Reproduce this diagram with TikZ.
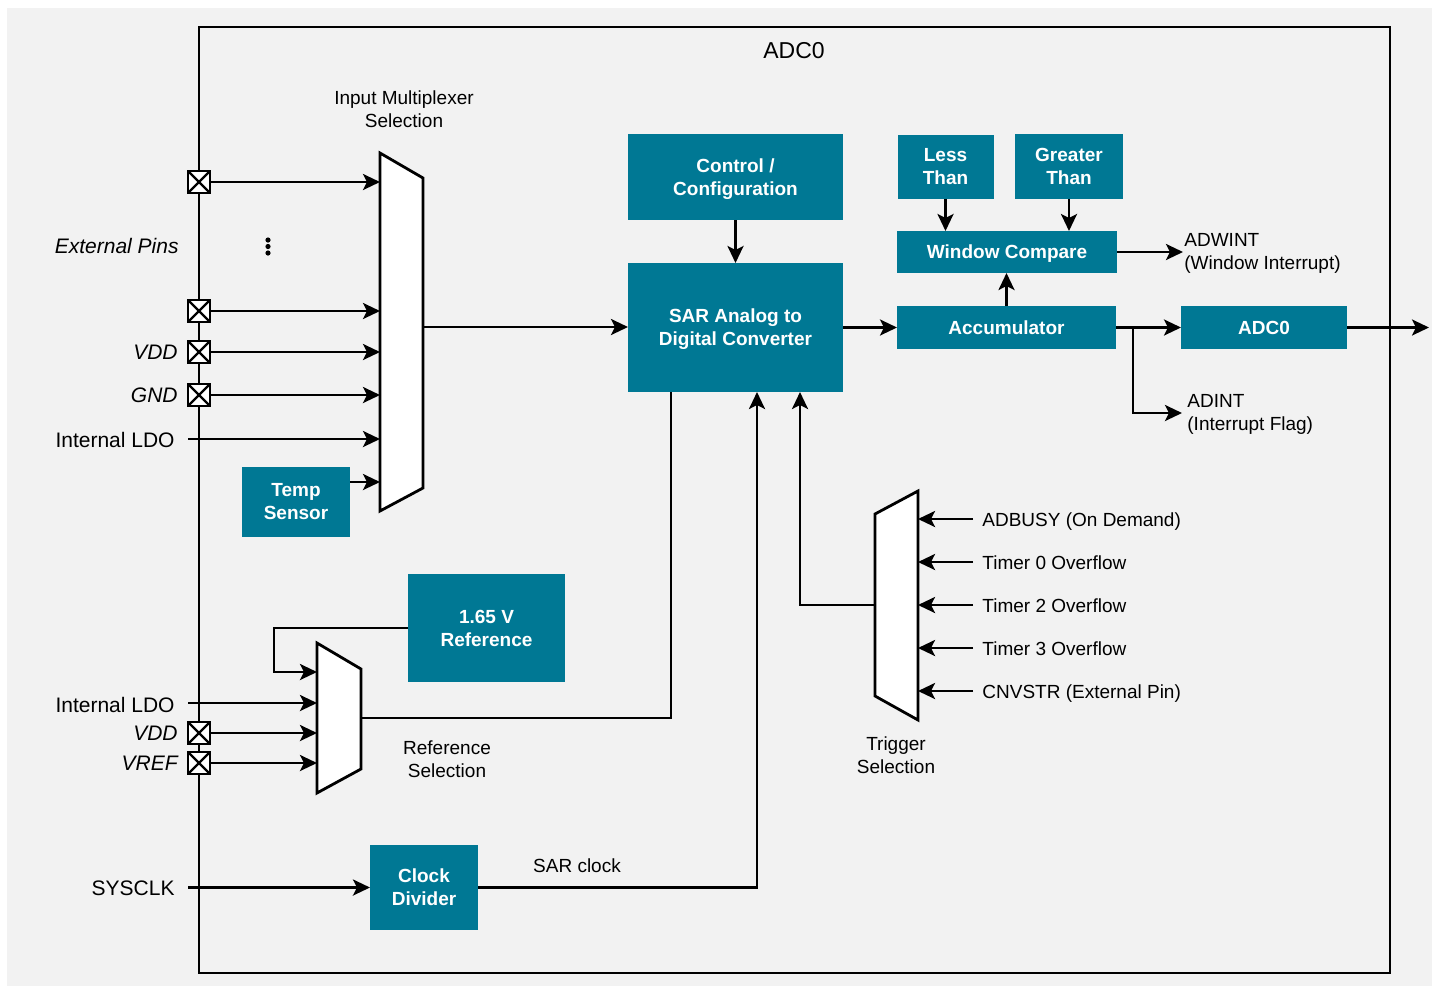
\documentclass[tikz,border=0pt]{standalone}
\usepackage{fontspec}
\setmainfont{Liberation Sans}
\usetikzlibrary{arrows.meta}
\definecolor{teal0}{RGB}{0,120,148}
\definecolor{bggrey}{RGB}{242,242,242}
\begin{document}
\begin{tikzpicture}[x=1pt,y=-1pt,
  line width=2.8pt,
  arr/.style={-{Stealth[length=17pt,width=16pt,inset=4pt]}},
  blk/.style={fill=teal0,text=white,font=\bfseries\fontsize{19}{23}\selectfont,align=center,inner sep=0pt,outer sep=0pt,draw=none},
  lbl/.style={font=\fontsize{19}{23}\selectfont,align=center,inner sep=0pt},
  one/.style={font=\fontsize{19}{23}\selectfont,inner sep=0pt,text height=13.6pt,text depth=0pt},
  big/.style={font=\fontsize{21}{25}\selectfont,inner sep=0pt,text height=15pt,text depth=0pt},
  ibig/.style={big,font=\itshape\fontsize{21}{25}\selectfont},
  pinbox/.style={draw,fill=white,line width=2.8pt,minimum size=22pt,inner sep=0pt,outer sep=0pt,
    path picture={\draw[line width=2.4pt] (path picture bounding box.north west) -- (path picture bounding box.south east) (path picture bounding box.north east) -- (path picture bounding box.south west);}},
  mux/.style={draw,fill=white,line width=2.8pt,line join=miter}
]
\useasboundingbox (0,0) rectangle (1432,986);
\fill[white] (0,0) rectangle (1432,986);
\fill[bggrey] (7,8) rectangle (1432,986);

% outer frame
\draw[line width=2.8pt] (199,27) rectangle (1390,973);
\node[font=\fontsize{23}{27}\selectfont,inner sep=0pt] (title) at (794,50.5) {ADC0};

% input multiplexer
\draw[mux] (380,153) -- (423,178) -- (423,488) -- (380,511) -- cycle;
\node[lbl] (imlbl) at (404,109) {Input Multiplexer\\Selection};
\coordinate (im1) at (380,182);
\coordinate (im2) at (380,311);
\coordinate (im3) at (380,352);
\coordinate (im4) at (380,395);
\coordinate (im5) at (380,439);
\coordinate (im6) at (380,482);
\coordinate (imo) at (423,327);

% pins
\node[pinbox] (p1) at (199,182) {};
\node[pinbox] (p2) at (199,311) {};
\node[pinbox] (p3) at (199,352) {};
\node[pinbox] (p4) at (199,395) {};
\node[pinbox] (p5) at (199,733) {};
\node[pinbox] (p6) at (199,763) {};

\node[ibig,anchor=east] (extl) at (180,246) {External Pins};
\node[ibig,anchor=east] (vddl) at (179,352) {VDD};
\node[ibig,anchor=east] (gndl) at (179,395) {GND};
\node[big,anchor=east] (ldol) at (176,440) {Internal LDO};
\coordinate (ldo1) at (188,439);

\fill (268,240) circle (2.6pt) (268,246.5) circle (2.6pt) (268,253) circle (2.6pt);

\draw[arr] (p1.east) -- (im1);
\draw[arr] (p2.east) -- (im2);
\draw[arr] (p3.east) -- (im3);
\draw[arr] (p4.east) -- (im4);
\draw[arr] (ldo1) -- (im5);

\node[blk,minimum width=108pt,minimum height=70pt] (temp) at (296,502) {Temp\\Sensor};
\draw[arr] (temp.east |- im6) -- (im6);

% SAR and control
\node[blk,minimum width=215pt,minimum height=86pt] (ctrl) at (735.5,177) {Control /\\\smash{Configuration}};
\node[blk,minimum width=215pt,minimum height=129pt] (sar) at (735.5,327.5) {SAR Analog to\\\smash{Digital Converter}};
\draw[arr] (ctrl.south) -- (sar.north);
\draw[arr] (imo) -- (sar.west |- imo);

% digital path
\node[blk,minimum width=219pt,minimum height=43pt] (acc) at (1006.5,327.5) {Accumulator};
\node[blk,minimum width=220pt,minimum height=42pt,text height=13.6pt,text depth=0pt] (win) at (1007,252) {Window Compare};
\node[blk,minimum width=96pt,minimum height=64pt] (less) at (945.5,166.5) {Less\\Than};
\node[blk,minimum width=108pt,minimum height=65pt] (great) at (1069,166.5) {Greater\\Than};
\node[blk,minimum width=166pt,minimum height=43pt] (adc) at (1264,327.5) {ADC0};

\draw[arr] (sar.east) -- (acc.west);
\draw[arr] (less.south) -- (less.south |- win.north);
\draw[arr] (great.south) -- (great.south |- win.north);
\draw[arr] (acc.north) -- (acc.north |- win.south);

\node[lbl,align=left,anchor=west] (adwint) at (1183,253) {ADWINT\\(Window Interrupt)};
\draw[arr] (win.east) -- (win.east -| adwint.west);

\draw[arr] (acc.east) -- (adc.west);
\coordinate (br) at (1133,327.5);
\node[lbl,align=left,anchor=west] (adint) at (1186,414) {ADINT\\(Interrupt Flag)};
\coordinate (adintin) at (1182,413);
\draw[arr] (br) |- (adintin);
\coordinate (out) at (1429,327.5);
\draw[arr] (adc.east) -- (out);

% reference selection
\draw[mux] (317,643) -- (361,669) -- (361,769) -- (317,793) -- cycle;
\node[lbl] (rslbl) at (447,759) {Reference\\Selection};
\coordinate (rm1) at (317,672);
\coordinate (rm2) at (317,703);
\coordinate (rm3) at (317,733);
\coordinate (rm4) at (317,763);
\coordinate (rmo) at (361,718);
\node[blk,minimum width=157pt,minimum height=108pt] (ref) at (486.5,628) {1.65 V\\Reference};
\draw[arr] (ref.west) -- ++(-134,0) |- (rm1);
\node[big,anchor=east] (ldo2l) at (176,705) {Internal LDO};
\coordinate (ldo2) at (188,703);
\draw[arr] (ldo2) -- (rm2);
\node[ibig,anchor=east] (vdd2l) at (179,733) {VDD};
\node[ibig,anchor=east] (vrefl) at (179,763) {VREF};
\draw[arr] (p5.east) -- (rm3);
\draw[arr] (p6.east) -- (rm4);
\coordinate (sarref) at (671,392);
\draw (sarref) |- (rmo);

% clock
\node[blk,minimum width=108pt,minimum height=85pt] (clk) at (424,887.5) {Clock\\Divider};
\node[big,anchor=east] (sysl) at (176,888) {SYSCLK};
\coordinate (sysclk) at (188,887.5);
\draw[arr] (sysclk) -- (sysclk -| clk.west);
\coordinate (sarclk) at (757,392);
\draw[arr] (clk.east) -| (sarclk);
\node[one] (sarclkl) at (577,865.5) {SAR clock};

% trigger selection
\draw[mux] (875,514) -- (918,491) -- (918,720) -- (875,696) -- cycle;
\node[lbl] (trlbl) at (896,755) {Trigger\\Selection};
\coordinate (tmo) at (875,605);
\coordinate (sartr) at (800,392);
\draw[arr] (tmo) -| (sartr);
\node[one,anchor=west] (t1) at (981,519.5) {ADBUSY (On Demand)};
\node[one,anchor=west] (t2) at (981,562.5) {Timer 0 Overflow};
\node[one,anchor=west] (t3) at (981,605.5) {Timer 2 Overflow};
\node[one,anchor=west] (t4) at (981,648.5) {Timer 3 Overflow};
\node[one,anchor=west] (t5) at (981,691.5) {CNVSTR (External Pin)};
\coordinate (ti1) at (918,519);
\coordinate (ti2) at (918,562);
\coordinate (ti3) at (918,605);
\coordinate (ti4) at (918,648);
\coordinate (ti5) at (918,691);
\draw[arr] (ti1 -| t1.west) ++(-8,0) -- (ti1);
\draw[arr] (ti2 -| t2.west) ++(-8,0) -- (ti2);
\draw[arr] (ti3 -| t3.west) ++(-8,0) -- (ti3);
\draw[arr] (ti4 -| t4.west) ++(-8,0) -- (ti4);
\draw[arr] (ti5 -| t5.west) ++(-8,0) -- (ti5);
\end{tikzpicture}
\end{document}
